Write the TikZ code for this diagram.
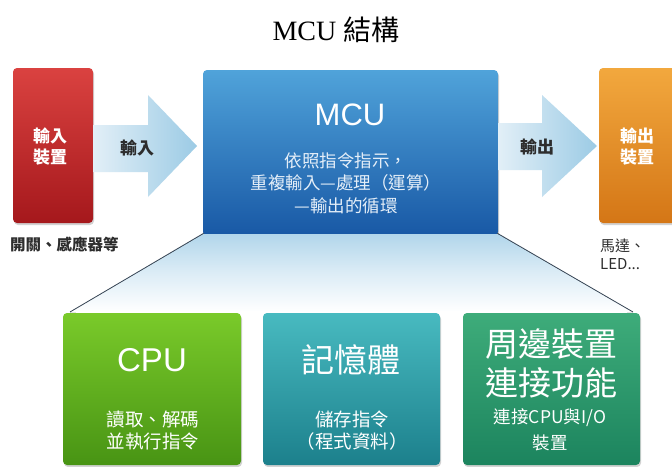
\documentclass[tikz,border=0pt]{standalone}
\usepackage{fontspec}
\setmainfont{Liberation Serif}
\newfontfamily\cjk{Noto Sans CJK TC}
\newfontfamily\arialf{Liberation Sans}
\usetikzlibrary{shadows,calc}
\definecolor{redT}{RGB}{218,66,64}
\definecolor{redB}{RGB}{165,24,28}
\definecolor{bluT}{RGB}{80,163,218}
\definecolor{bluB}{RGB}{24,88,165}
\definecolor{oraT}{RGB}{242,168,62}
\definecolor{oraB}{RGB}{212,118,22}
\definecolor{grnT}{RGB}{122,202,42}
\definecolor{grnB}{RGB}{72,148,20}
\definecolor{tealT}{RGB}{72,186,192}
\definecolor{tealB}{RGB}{28,128,140}
\definecolor{perT}{RGB}{62,172,122}
\definecolor{perB}{RGB}{28,132,94}
\definecolor{arrL}{RGB}{226,239,247}
\definecolor{arrR}{RGB}{156,203,229}
\definecolor{trapT}{RGB}{178,214,235}
\definecolor{lineC}{RGB}{58,72,88}
\definecolor{txtD}{RGB}{45,45,45}
\definecolor{descC}{RGB}{228,238,248}
\begin{document}
\begin{tikzpicture}[x=1pt,y=-1pt,
  box/.style={rounded corners=4pt, inner sep=0pt, draw=none,
    drop shadow={opacity=0.35,shadow xshift=1pt,shadow yshift=-2pt}},
  arrowfill/.style={left color=arrL, right color=arrR, draw=none},
  wtxt/.style={text=white, align=center, inner sep=0pt},
  dtxt/.style={text=txtD, align=center, inner sep=0pt},
  conn/.style={draw=lineC, line width=0.8pt}
]
\useasboundingbox (0,0) rectangle (672,466);
\clip (0,0) rectangle (672,466);
\fill[white] (0,0) rectangle (672,466);

% title
\node (title) at (336,30) [font=\fontsize{28}{32}\selectfont] {MCU {\cjk 結構}};

% boxes
\node[box, minimum width=80pt, minimum height=155pt, top color=redT, bottom color=redB] (inbox) at (53,145.5) {};
\node[box, minimum width=295pt, minimum height=166pt, top color=bluT, bottom color=bluB] (mcu) at (350.5,153) {};
\node[box, minimum width=95pt, minimum height=155pt, top color=oraT, bottom color=oraB] (outbox) at (646.5,145.5) {};

% lower fan
\coordinate (fl) at (70,312);
\coordinate (fr) at (633,312);
\fill[top color=trapT, bottom color=white, middle color=white!55!trapT] ($(mcu.south west)+(0,-2)$) -- ($(mcu.south east)+(0,-2)$) -- (fr) -- (fl) -- cycle;
\draw[white, line width=3pt] ($(fl)+(6,0)$) -- ($(fr)+(-6,0)$);

\node[box, minimum width=178pt, minimum height=152pt, top color=grnT, bottom color=grnB] (cpu) at (152,389) {};
\node[box, minimum width=177pt, minimum height=152pt, top color=tealT, bottom color=tealB] (mem) at (351.5,389) {};
\node[box, minimum width=177pt, minimum height=152pt, top color=perT, bottom color=perB] (per) at (551.5,389) {};

\draw[conn] ($(mcu.south west)+(1,-3)$) -- (fl);
\draw[conn] ($(mcu.south east)+(-1,-3)$) -- (fr);

% arrows
\path[arrowfill] (93,125) -- (148,125) -- (148,95) -- (197,146) -- (148,197) -- (148,172) -- (93,172) -- cycle;
\path[arrowfill] (498,123) -- (542,123) -- (542,95) -- (597,146) -- (542,197) -- (542,170) -- (498,170) -- cycle;

% texts
\node[wtxt, font=\cjk\bfseries\fontsize{17}{21}\selectfont] (intx) at (50,147) {輸入\\裝置};
\node[dtxt, anchor=west, font=\cjk\bfseries\fontsize{15.5}{20}\selectfont] (inlab) at (10,245) {開關、感應器等};
\node[dtxt, font=\cjk\bfseries\fontsize{17}{20}\selectfont] (inarr) at (137,148) {輸入};

\node[wtxt, font=\arialf\fontsize{31}{34}\selectfont] (mcut) at (350,115) {MCU};
\node[wtxt, text=descC, font=\cjk\fontsize{17.5}{22.5}\selectfont] (mcud) at (346,183) {依照指令指示，\\重複輸入—處理（運算）\\—輸出的循環};

\node[dtxt, font=\cjk\bfseries\fontsize{17}{20}\selectfont] (outarr) at (537,147) {輸出};
\node[wtxt, font=\cjk\bfseries\fontsize{17}{21}\selectfont] (outtx) at (637,147) {輸出\\裝置};
\node[dtxt, anchor=west, align=left, font=\cjk\fontsize{15}{18}\selectfont] (outlab) at (600,254) {馬達、\\LED...};

\node[wtxt, font=\arialf\fontsize{33}{36}\selectfont] (cput) at (152,360) {CPU};
\node[wtxt, font=\cjk\fontsize{18.5}{22}\selectfont] (cpud) at (153,431) {讀取、解碼\\並執行指令};

\node[wtxt, font=\cjk\fontsize{33}{36}\selectfont] (memt) at (351,360) {記憶體};
\node[wtxt, font=\cjk\fontsize{18.5}{22}\selectfont] (memd) at (352,431) {儲存指令\\（程式資料）};

\node[wtxt, font=\cjk\fontsize{33}{39}\selectfont] (pert) at (551,363) {周邊裝置\\連接功能};
\node[wtxt, font=\cjk\fontsize{17.5}{26}\selectfont] (perd) at (550,430) {連接CPU與I/O\\裝置};
\end{tikzpicture}
\end{document}
